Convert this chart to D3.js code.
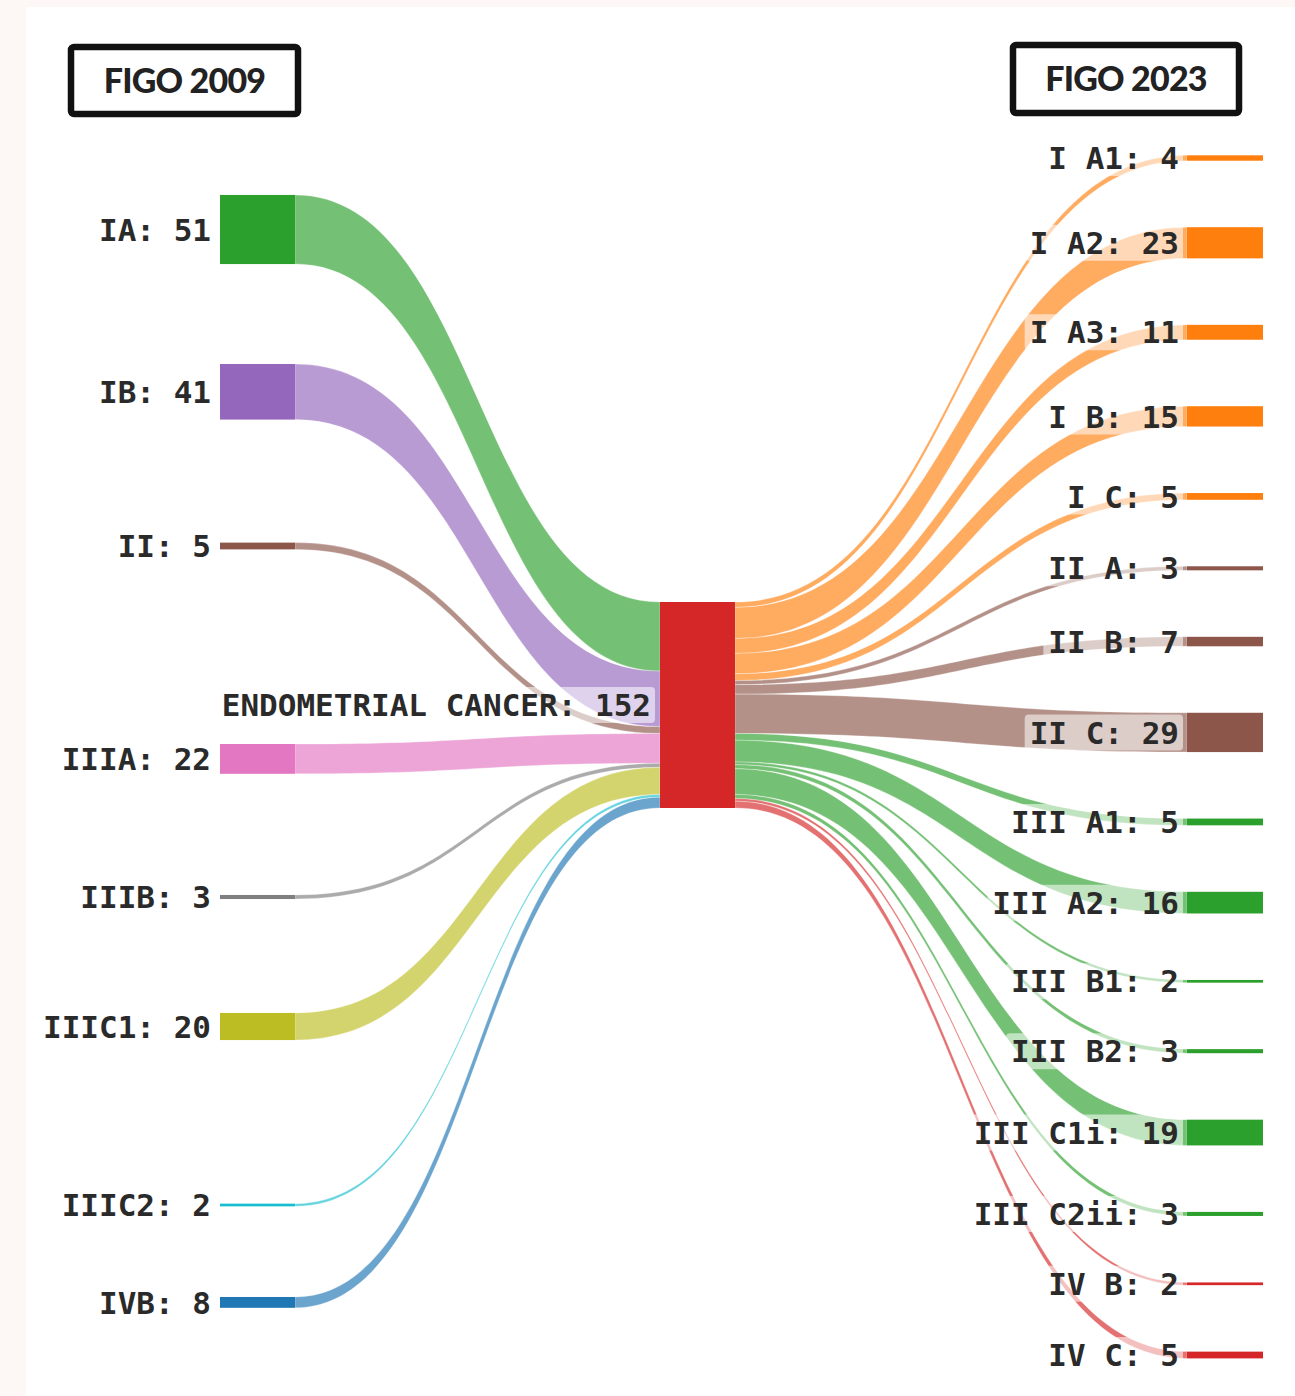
<!DOCTYPE html>
<html>
<head>
<meta charset="utf-8">
<script src="https://cdn.jsdelivr.net/npm/d3@7"></script>
<style>
  html, body { margin: 0; padding: 0; background: #fdf7f5; }
  svg { display: block; }
</style>
</head>
<body>
<svg id="chart" width="1295" height="1396"></svg>
<script>
// ---------------- data ----------------
const titles = ["FIGO 2009", "FIGO 2023"];
const centerLabel = "ENDOMETRIAL CANCER";
const leftLabels = ["IA", "IB", "II", "IIIA", "IIIB", "IIIC1", "IIIC2", "IVB"];
const leftValues = [51, 41, 5, 22, 3, 20, 2, 8];
const rightLabels = ["I A1", "I A2", "I A3", "I B", "I C", "II A", "II B", "II C",
                     "III A1", "III A2", "III B1", "III B2", "III C1i", "III C2ii", "IV B", "IV C"];
const rightValues = [4, 23, 11, 15, 5, 3, 7, 29, 5, 16, 2, 3, 19, 3, 2, 5];

// ---------------- styles / layout ----------------
const leftColors = ["#2ca02c", "#9467bd", "#8c564b", "#e377c2", "#7f7f7f", "#bcbd22", "#17becf", "#1f77b4"];
const rightColors = ["#ff7f0e", "#ff7f0e", "#ff7f0e", "#ff7f0e", "#ff7f0e",
                     "#8c564b", "#8c564b", "#8c564b",
                     "#2ca02c", "#2ca02c", "#2ca02c", "#2ca02c", "#2ca02c", "#2ca02c",
                     "#d62728", "#d62728"];
const centerColor = "#d62728";
// left column node centres (free layout positions, px)
const leftCenters = [229.5, 391.8, 546, 758.9, 897, 1026.5, 1205, 1302.4];

const total = d3.sum(leftValues);
const svg = d3.select("#chart");

svg.append("rect").attr("x", 26).attr("y", 7).attr("width", 1295 - 26).attr("height", 1396 - 7).attr("fill", "#ffffff");

const h = d3.scaleLinear().domain([0, total]).range([0, 206]);
const nodeW = 75;
const xLeft = 220, xCenter = 660, xRight = 1187;
const centerTop = 602;

// right column positions: stacked with uniform padding
const rightTop0 = 155.3, rightBottom = 1358.4;
const pad = (rightBottom - rightTop0 - h(total)) / (rightValues.length - 1);
const rightTops = [];
{
  let y = rightTop0;
  rightValues.forEach(v => { rightTops.push(y); y += h(v) + pad; });
}
const leftTops = leftValues.map((v, i) => leftCenters[i] - h(v) / 2);

function ribbon(x0, y0, x1, y1, t) {
  const xm = (x0 + x1) / 2;
  const p = d3.path();
  p.moveTo(x0, y0);
  p.bezierCurveTo(xm, y0, xm, y1, x1, y1);
  p.lineTo(x1, y1 + t);
  p.bezierCurveTo(xm, y1 + t, xm, y0 + t, x0, y0 + t);
  p.closePath();
  return p.toString();
}

const linkG = svg.append("g");
// left links
{
  let cy = centerTop;
  leftValues.forEach((v, i) => {
    const t = h(v);
    linkG.append("path")
      .attr("d", ribbon(xLeft + nodeW, leftTops[i], xCenter, cy, t))
      .attr("fill", leftColors[i]).attr("fill-opacity", 0.66)
      .attr("stroke", "#ffffff").attr("stroke-opacity", 0.5).attr("stroke-width", 0.6);
    cy += t;
  });
}
// right links
{
  let cy = centerTop;
  rightValues.forEach((v, j) => {
    const t = h(v);
    linkG.append("path")
      .attr("d", ribbon(xCenter + nodeW, cy, xRight, rightTops[j], t))
      .attr("fill", rightColors[j]).attr("fill-opacity", 0.66)
      .attr("stroke", "#ffffff").attr("stroke-opacity", 0.5).attr("stroke-width", 0.6);
    cy += t;
  });
}

// nodes
const nodeG = svg.append("g");
leftValues.forEach((v, i) => {
  nodeG.append("rect").attr("x", xLeft).attr("y", leftTops[i]).attr("width", nodeW).attr("height", h(v))
    .attr("fill", leftColors[i]);
});
nodeG.append("rect").attr("x", xCenter).attr("y", centerTop).attr("width", nodeW).attr("height", h(total))
  .attr("fill", centerColor);
rightValues.forEach((v, j) => {
  nodeG.append("rect").attr("x", xRight).attr("y", rightTops[j]).attr("width", nodeW + 1).attr("height", h(v))
    .attr("fill", rightColors[j]);
});

// labels with a translucent white halo box
const labG = svg.append("g")
  .attr("font-family", "'DejaVu Sans Mono', monospace")
  .attr("font-weight", "bold").attr("font-size", 31).attr("fill", "#2a2a2a");
function label(x, yc, txt) {
  const g = labG.append("g");
  const tx = g.append("text").attr("x", x).attr("y", yc).attr("dy", "0.36em")
    .attr("text-anchor", "end").text(txt);
  const bb = tx.node().getBBox();
  g.insert("rect", "text")
    .attr("x", bb.x - 5).attr("y", yc - 18).attr("width", bb.width + 9).attr("height", 36)
    .attr("rx", 4).attr("fill", "#ffffff").attr("fill-opacity", 0.55);
}
leftValues.forEach((v, i) => label(xLeft - 9, leftTops[i] + h(v) / 2, `${leftLabels[i]}: ${v}`));
label(xCenter - 9, centerTop + h(total) / 2, `${centerLabel}: ${total}`);
rightValues.forEach((v, j) => label(xRight - 8, rightTops[j] + h(v) / 2, `${rightLabels[j]}: ${v}`));

// title boxes
const boxes = [{x: 71, y: 47, w: 227, h: 67}, {x: 1013, y: 45, w: 226, h: 68}];
titles.forEach((t, i) => {
  const b = boxes[i];
  svg.append("rect").attr("x", b.x).attr("y", b.y).attr("width", b.w).attr("height", b.h)
    .attr("rx", 3).attr("fill", "#ffffff").attr("stroke", "#111111").attr("stroke-width", 6.5);
  svg.append("text").attr("x", b.x + b.w / 2).attr("y", b.y + b.h / 2).attr("dy", "0.36em")
    .attr("text-anchor", "middle").attr("font-family", "Lato, 'Open Sans', sans-serif")
    .attr("font-weight", 900).attr("font-size", 34).attr("letter-spacing", -0.8)
    .attr("fill", "#222222").text(t);
});
</script>
</body>
</html>
